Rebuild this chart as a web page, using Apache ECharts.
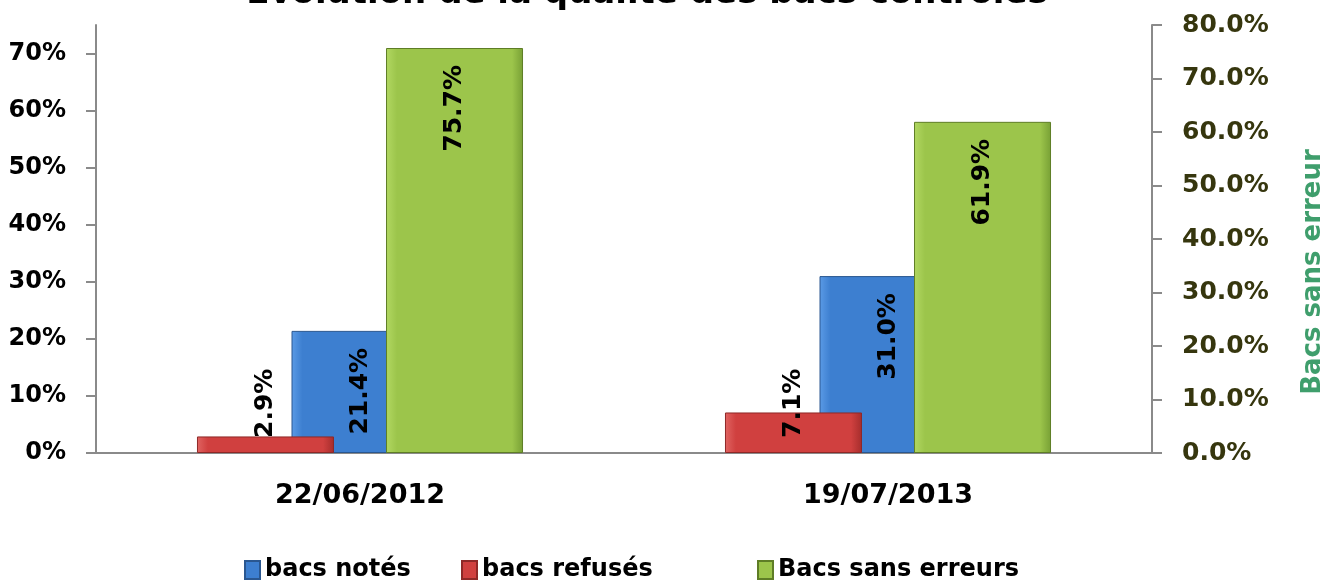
<html>
  <head>
    <meta charset="utf-8">
    <title>Evolution de la qualité des bacs contrôlés</title>
    <script src="https://cdn.jsdelivr.net/npm/echarts@6.0.0/dist/echarts.min.js"></script>
    <style>
        html, body {
          margin: 0;
          padding: 0;
          background: #fff;
        }
        #main {
          width: 1339px;
          height: 581px;
        }
    </style>
  </head>
  <body>
    <div id="main"></div>
    <script type="text/javascript">

        // donnees
        var dates = ['22/06/2012', '19/07/2013'];
        var bacsNotes = [21.4, 31.0];
        var bacsRefuses = [2.9, 7.1];
        var bacsSansErreurs = [75.7, 61.9];

        var font = 'DejaVu Sans';

        function grad(c1, c2, c3) {
          return new echarts.graphic.LinearGradient(0, 0, 1, 0, [
            { offset: 0, color: c1 },
            { offset: 0.08, color: c2 },
            { offset: 0.92, color: c2 },
            { offset: 1, color: c3 }
          ]);
        }

        var blue = grad('#5b9be6', '#3d7fd0', '#2d62a8');
        var red = grad('#e06462', '#d0403f', '#a52d2c');
        var green = grad('#b2d862', '#9cc54b', '#78a035');

        var legendText = { fontFamily: font, fontSize: 24, fontWeight: 'bold', color: '#000' };

        var chartDom = document.getElementById('main');
        var myChart = echarts.init(chartDom);
        var option;

        option = {
          backgroundColor: '#fff',
          textStyle: { fontFamily: font },
          title: {
            text: 'Evolution de la qualité des bacs contrôlés',
            left: 642,
            textAlign: 'center',
            top: -28,
            textStyle: { fontFamily: font, fontSize: 34, fontWeight: 'bold', color: '#000' }
          },
          legend: [
            {
              data: ['bacs notés'],
              left: 244, top: 558, padding: 0,
              itemWidth: 15, itemHeight: 18, icon: 'rect',
              textStyle: legendText
            },
            {
              data: ['bacs refusés'],
              left: 461, top: 558, padding: 0,
              itemWidth: 15, itemHeight: 18, icon: 'rect',
              textStyle: legendText
            },
            {
              data: ['Bacs sans erreurs'],
              left: 757, top: 558, padding: 0,
              itemWidth: 15, itemHeight: 18, icon: 'rect',
              textStyle: legendText
            }
          ],
          grid: {
            left: 96,
            right: 187,
            top: 25,
            bottom: 128,
            outerBoundsMode: 'none'
          },
          xAxis: {
            type: 'category',
            data: dates,
            axisLine: { lineStyle: { color: '#8a8a8a', width: 2 } },
            axisTick: { length: 10, lineStyle: { color: '#8a8a8a', width: 2 } },
            axisLabel: { margin: 29, fontFamily: font, fontSize: 27, fontWeight: 'bold', color: '#000' }
          },
          yAxis: [
            {
              type: 'value',
              min: 0,
              max: 75,
              interval: 10,
              splitLine: { show: false },
              axisLine: { show: true, lineStyle: { color: '#8a8a8a', width: 2 } },
              axisTick: { show: true, length: 10, lineStyle: { color: '#8a8a8a', width: 2 } },
              axisLabel: {
                showMaxLabel: false,
                margin: 30,
                fontFamily: font, fontSize: 24, fontWeight: 'bold', color: '#000',
                formatter: function (v) { return v + '%'; }
              }
            },
            {
              type: 'value',
              min: 0,
              max: 80,
              interval: 10,
              position: 'right',
              splitLine: { show: false },
              name: 'Bacs sans erreur',
              nameLocation: 'middle',
              nameRotate: 90,
              nameGap: 148,
              nameTextStyle: {
                fontFamily: font, fontSize: 26, fontWeight: 'bold', color: '#3f9e6c',
                padding: [0, 66, 0, 0]
              },
              axisLine: { show: true, lineStyle: { color: '#8a8a8a', width: 2 } },
              axisTick: { show: true, length: 10, lineStyle: { color: '#8a8a8a', width: 2 } },
              axisLabel: {
                margin: 30,
                fontFamily: font, fontSize: 25, fontWeight: 'bold', color: '#36360e',
                formatter: function (v) { return v.toFixed(1) + '%'; }
              }
            }
          ],
          series: [
            {
              name: 'bacs refusés',
              type: 'bar',
              yAxisIndex: 0,
              z: 3,
              barWidth: 137,
              barGap: '-31%',
              itemStyle: { color: red, borderColor: '#8e2827', borderWidth: 1 },
              label: {
                show: true,
                position: 'insideBottom',
                distance: 15,
                rotate: 90,
                align: 'left',
                verticalAlign: 'middle',
                fontFamily: font, fontSize: 25, fontWeight: 'bold', color: '#000',
                formatter: function (p) { return p.value.toFixed(1) + '%'; }
              },
              data: bacsRefuses
            },
            {
              name: 'bacs notés',
              type: 'bar',
              yAxisIndex: 0,
              z: 2,
              barWidth: 137,
              barGap: '-31%',
              itemStyle: { color: blue, borderColor: '#2a5790', borderWidth: 1 },
              label: {
                show: true,
                position: 'insideTop',
                distance: 17,
                rotate: 90,
                align: 'right',
                verticalAlign: 'middle',
                fontFamily: font, fontSize: 25, fontWeight: 'bold', color: '#000',
                formatter: function (p) { return p.value.toFixed(1) + '%'; }
              },
              data: bacsNotes
            },
            {
              name: 'Bacs sans erreurs',
              type: 'bar',
              yAxisIndex: 1,
              z: 4,
              barWidth: 137,
              barGap: '-31%',
              itemStyle: { color: green, borderColor: '#5e7d26', borderWidth: 1 },
              label: {
                show: true,
                position: 'insideTop',
                distance: 17,
                rotate: 90,
                align: 'right',
                verticalAlign: 'middle',
                fontFamily: font, fontSize: 25, fontWeight: 'bold', color: '#000',
                formatter: function (p) { return p.value.toFixed(1) + '%'; }
              },
              data: bacsSansErreurs
            }
          ]
        };

        option && myChart.setOption(option);

    </script>
  </body>
</html>
